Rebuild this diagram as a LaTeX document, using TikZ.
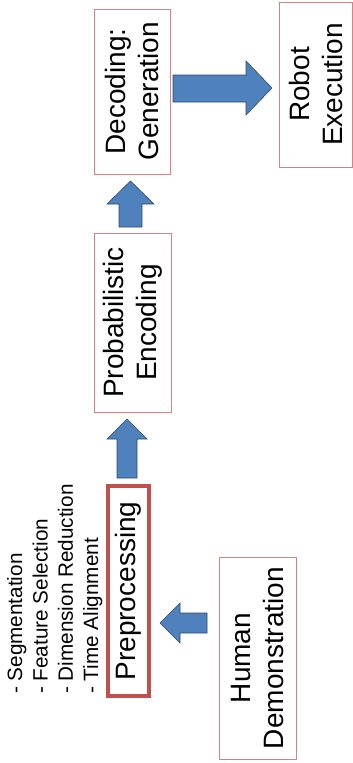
\documentclass[tikz,border=0pt]{standalone}
\usepackage{fontspec}
\setmainfont{Liberation Sans}
\definecolor{boxred}{HTML}{DA807D}
\definecolor{prered}{HTML}{C0504D}
\definecolor{arrowfill}{HTML}{4F81BD}
\definecolor{arrowline}{HTML}{2C4A70}
\begin{document}
\begin{tikzpicture}[x=1pt,y=-1pt,
  stepbox/.style={draw=boxred, line width=0.8pt, rotate=90, inner sep=0pt, align=center,
    font=\fontsize{28}{33}\selectfont},
  prebox/.style={stepbox, draw=prered, line width=4pt},
  blockarrow/.style={fill=arrowfill, draw=arrowline, line width=0.6pt, line join=miter},
  listtext/.style={rotate=90, inner sep=0pt, align=left, font=\fontsize{20.7}{25.3}\selectfont}]
\useasboundingbox (0,0) rectangle (353,763);
% boxes
\node[stepbox, minimum width=165pt, minimum height=76pt] (dec) at (132,91.5) {Decoding:\\Generation};
\node[stepbox, minimum width=165pt, minimum height=73pt] (rob) at (315.5,84.5) {Robot\\Execution};
\node[stepbox, minimum width=179pt, minimum height=77pt] (prob) at (132.5,322.5) {Probabilistic\\Encoding};
\node[stepbox, minimum width=202pt, minimum height=77pt] (hum) at (257.5,658) {Human\\Demonstration};
\node[prebox, minimum width=210pt, minimum height=41pt] (pre) at (128.5,591) {Preprocessing};
% list
\node[listtext, anchor=north west] (list) at (7,694) {- Segmentation\\- Feature Selection\\- Dimension Reduction\\- Time Alignment};
% block arrows
\draw[blockarrow] (207,613) -- (180,613) -- (180,603) -- (160,623) -- (180,643) -- (180,633) -- (207,633) -- cycle;
\draw[blockarrow] (117,478) -- (117,439) -- (107,439) -- (127,419) -- (147,439) -- (137,439) -- (137,478) -- cycle;
\draw[blockarrow] (119,227) -- (119,204) -- (107,204) -- (130.5,181) -- (154,204) -- (142,204) -- (142,227) -- cycle;
\draw[blockarrow] (173,75) -- (246,75) -- (246,61) -- (272,88) -- (246,115) -- (246,102) -- (173,102) -- cycle;
\end{tikzpicture}
\end{document}
